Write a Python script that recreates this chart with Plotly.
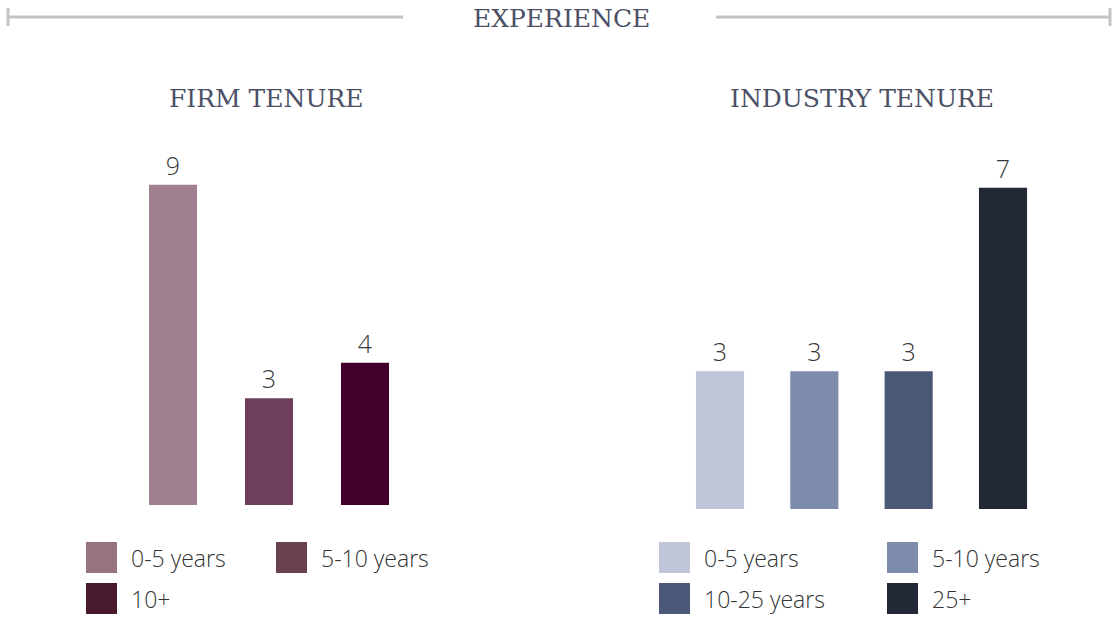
import plotly.graph_objects as go

W, H = 1116, 617

# ---- data ----
firm_categories = ["0-5 years", "5-10 years", "10+"]
firm_values = [9, 3, 4]
firm_bar_colors = ["#A08090", "#6E405E", "#40002A"]
firm_legend_colors = ["#95747F", "#694050", "#491A2D"]

industry_categories = ["0-5 years", "5-10 years", "10-25 years", "25+"]
industry_values = [3, 3, 3, 7]
industry_bar_colors = ["#C0C6D8", "#7E8CAC", "#4A5876", "#222836"]
industry_legend_colors = ["#C0C6D8", "#7E8CAC", "#4B5878", "#222836"]

main_title = "EXPERIENCE"
firm_title = "FIRM TENURE"
industry_title = "INDUSTRY TENURE"

LABEL_FONT = dict(family="Open Sans", size=25, color="#3a3a3a", weight=300)
HEAD_FONT = dict(family="DejaVu Serif", size=25, color="#4b5066")


def px(x):
    return x / W


def py(y):
    return 1 - y / H


fig = go.Figure()

fig.add_trace(go.Bar(
    x=list(range(len(firm_categories))), y=firm_values,
    marker=dict(color=firm_bar_colors, line=dict(width=0)),
    width=0.5, text=[str(v) for v in firm_values], textposition="outside",
    textfont=LABEL_FONT, cliponaxis=False, hoverinfo="skip",
    xaxis="x", yaxis="y", showlegend=False,
))
fig.add_trace(go.Bar(
    x=list(range(len(industry_categories))), y=industry_values,
    marker=dict(color=industry_bar_colors, line=dict(width=0)),
    width=0.51, text=[str(v) for v in industry_values], textposition="outside",
    textfont=LABEL_FONT, cliponaxis=False, hoverinfo="skip",
    xaxis="x2", yaxis="y2", showlegend=False,
))

axis_common = dict(showgrid=False, zeroline=False, showline=False,
                   showticklabels=False, ticks="", fixedrange=True)

# left: centers 173..365, spacing 96 ; zero at y=505, 35.57 px/unit
fig.update_layout(
    xaxis=dict(domain=[px(173 - 48), px(365 + 48)], range=[-0.5, 2.5], **axis_common),
    yaxis=dict(domain=[py(505), py(505 - 35.57 * 10)], range=[0, 10], **axis_common),
    # right: centers 720..1003, spacing 94.33 ; zero at y=509, 45.9 px/unit
    xaxis2=dict(domain=[px(720 - 47.17), px(1003 + 47.17)], range=[-0.5, 3.5],
                anchor="y2", **axis_common),
    yaxis2=dict(domain=[py(509), py(509 - 45.9 * 8)], range=[0, 8],
                anchor="x2", **axis_common),
)

shapes = []
annotations = []

# title rule lines
line_col = "#C4C3C8"
shapes.append(dict(type="line", xref="paper", yref="paper", x0=px(8), x1=px(403),
                   y0=py(17), y1=py(17), line=dict(color=line_col, width=3)))
shapes.append(dict(type="line", xref="paper", yref="paper", x0=px(8), x1=px(8),
                   y0=py(8), y1=py(26), line=dict(color=line_col, width=3)))
shapes.append(dict(type="line", xref="paper", yref="paper", x0=px(716), x1=px(1110),
                   y0=py(17), y1=py(17), line=dict(color=line_col, width=3)))
shapes.append(dict(type="line", xref="paper", yref="paper", x0=px(1110), x1=px(1110),
                   y0=py(8), y1=py(26), line=dict(color=line_col, width=3)))

annotations.append(dict(text=main_title, xref="paper", yref="paper", x=px(561), y=py(18),
                        xanchor="center", yanchor="middle", showarrow=False, font=HEAD_FONT))
annotations.append(dict(text=firm_title, xref="paper", yref="paper", x=px(266), y=py(98),
                        xanchor="center", yanchor="middle", showarrow=False, font=HEAD_FONT))
annotations.append(dict(text=industry_title, xref="paper", yref="paper", x=px(862), y=py(98),
                        xanchor="center", yanchor="middle", showarrow=False, font=HEAD_FONT))


def add_legend(cats, colors, col_x, row_y):
    for i, (c, col) in enumerate(zip(cats, colors)):
        x0 = col_x[i % 2]
        y0 = row_y[i // 2]
        shapes.append(dict(type="rect", xref="paper", yref="paper",
                           x0=px(x0), x1=px(x0 + 31), y0=py(y0 + 31), y1=py(y0),
                           fillcolor=col, line=dict(width=0)))
        annotations.append(dict(text=c, xref="paper", yref="paper", x=px(x0 + 43),
                                y=py(y0 + 16), xanchor="left", yanchor="middle",
                                showarrow=False,
                                font=dict(family="Open Sans", size=23, color="#333333", weight=300)))


add_legend(firm_categories, firm_legend_colors, [86, 276], [542, 583])
add_legend(industry_categories, industry_legend_colors, [659, 887], [542, 583])

fig.update_layout(
    width=W, height=H, margin=dict(l=0, r=0, t=0, b=0),
    paper_bgcolor="white", plot_bgcolor="white",
    shapes=shapes, annotations=annotations, showlegend=False,
)

fig.write_html(
    "out.html",
    config={"displayModeBar": False},
    post_script="document.body.style.margin='0';document.body.style.overflow='hidden';",
)
